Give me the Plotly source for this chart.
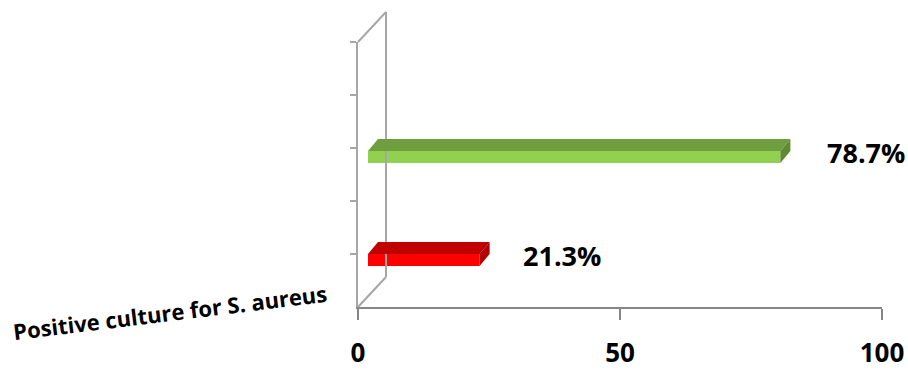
import numpy as np
import plotly.graph_objects as go

# ---- data ----
categories = ["Yes", "No"]          # hidden category labels
values = [21.3, 78.7]               # percent
front_colors = ["#FF0000", "#92D050"]
top_colors = ["#C00000", "#6E9E3E"]
side_colors = ["#B00000", "#5E8A32"]
x_ticks = [0, 50, 100]
axis_title = "Positive culture for S. aureus"

# ---- geometry (pixels) ----
W, H = 908, 372
L, R, T, B = 358, 26, 42, 65
pw, ph = W - L - R, H - T - B
x_min, x_max = 0, 100
px_per_x = pw / (x_max - x_min)
depth_dx_px, depth_dy_px = 10, 12      # 3D offset of bar top face
bar_front_dx_px = 10                   # bars sit slightly behind the front floor edge

# y2 (bars) mapping: category 0 centred at y=260px, category 1 at y=157px
c0_px, c1_px = 260, 157
py_per_cat = c0_px - c1_px
y2_lo = 0 - ((T + ph) - c0_px) / py_per_cat
y2_hi = 1 + (c1_px - T) / py_per_cat
bar_w = 12 / py_per_cat

dxu = depth_dx_px / px_per_x
dyu = depth_dy_px / py_per_cat
x2_shift = bar_front_dx_px / px_per_x

y_pos = np.arange(len(categories))

fig = go.Figure()
# empty trace so the visible primary axes are drawn
fig.add_trace(go.Scatter(x=[], y=[], xaxis="x", yaxis="y", showlegend=False,
                         hoverinfo="skip"))
fig.add_trace(go.Bar(
    x=values, y=y_pos, orientation="h", width=bar_w,
    marker=dict(color=front_colors, line=dict(width=0)),
    xaxis="x2", yaxis="y2", showlegend=False, hoverinfo="x",
))

shapes = []
# back wall lines (decoration, in paper coords)
wall_x = 28 / pw
wall_top = (T + ph - 12) / ph
wall_bot = (T + ph - 277) / ph
gray = "#A6A6A6"
shapes.append(dict(type="line", xref="paper", yref="paper", x0=wall_x, x1=wall_x,
                   y0=wall_bot, y1=wall_top, line=dict(color=gray, width=2)))
shapes.append(dict(type="line", xref="paper", yref="paper", x0=0, x1=wall_x,
                   y0=1, y1=wall_top, line=dict(color=gray, width=2)))
shapes.append(dict(type="line", xref="paper", yref="paper", x0=0, x1=wall_x,
                   y0=0, y1=wall_bot, line=dict(color=gray, width=2)))

# 3D faces of bars derived from values
for i, v in enumerate(values):
    yt = y_pos[i] + bar_w / 2
    yb = y_pos[i] - bar_w / 2
    top = (f"M 0 {yt} L {v} {yt} L {v + dxu} {yt + dyu} L {dxu} {yt + dyu} Z")
    side = (f"M {v} {yb} L {v} {yt} L {v + dxu} {yt + dyu} L {v + dxu} {yb + dyu} Z")
    shapes.append(dict(type="path", path=top, xref="x2", yref="y2",
                       fillcolor=top_colors[i], line=dict(width=0), layer="above"))
    shapes.append(dict(type="path", path=side, xref="x2", yref="y2",
                       fillcolor=side_colors[i], line=dict(width=0), layer="above"))

annotations = []
for i, v in enumerate(values):
    annotations.append(dict(x=v, y=y_pos[i], xref="x2", yref="y2", text=f"{v:.1f}%",
                            showarrow=False, xanchor="left", yanchor="middle",
                            xshift=45 if v > 50 else 41, yshift=5,
                            font=dict(family="Open Sans", size=27, color="black", weight=700)))
annotations.append(dict(x=(170 - L) / pw, y=(T + ph - 312) / ph, xref="paper", yref="paper",
                        xanchor="center", yanchor="middle",
                        text=axis_title, showarrow=False, textangle=-7,
                        font=dict(family="Open Sans", size=22, color="black", weight=700)))

font_tick = dict(family="Open Sans", size=26, color="black", weight=700)

fig.update_layout(
    template="none",
    width=W, height=H,
    margin=dict(l=L, r=R, t=T, b=B, pad=0, autoexpand=False),
    paper_bgcolor="white", plot_bgcolor="white",
    xaxis=dict(range=[x_min, x_max], tickvals=x_ticks, ticks="outside", ticklen=11,
               tickcolor="#868686", tickwidth=2, showline=True, linecolor="#868686",
               linewidth=2, showgrid=False, zeroline=False, tickfont=font_tick,
               ticklabelstandoff=11, automargin=False, fixedrange=True),
    xaxis2=dict(range=[x_min - x2_shift, x_max - x2_shift], overlaying="x", anchor="y",
                visible=False, automargin=False, fixedrange=True),
    yaxis=dict(range=[0, 5], tickvals=[1, 2, 3, 4, 5], ticks="outside", ticklen=6,
               tickcolor=gray, tickwidth=2, showticklabels=False, showline=True,
               linecolor=gray, linewidth=2, showgrid=False, zeroline=False,
               automargin=False, fixedrange=True),
    yaxis2=dict(range=[y2_lo, y2_hi], overlaying="y", anchor="x", visible=False,
                automargin=False, fixedrange=True),
    shapes=shapes, annotations=annotations,
    showlegend=False,
)

fig.write_html("out.html")
